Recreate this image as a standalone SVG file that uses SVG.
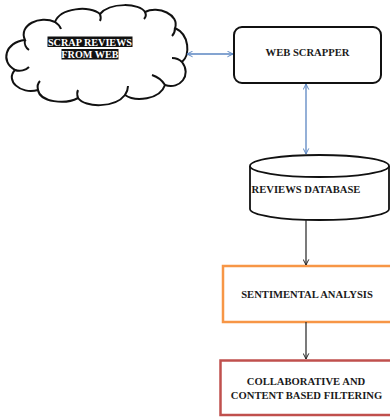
<svg xmlns="http://www.w3.org/2000/svg" width="390" height="417" viewBox="0 0 390 417">
<style>
text{font-family:"Liberation Serif","Times New Roman",serif;font-weight:bold;text-anchor:middle;fill:#1a1a1a}
.lbl{font-size:10.6px}
.wt{fill:#ffffff;font-size:10.2px}
.blue{stroke:#5b86c2;stroke-width:1.3;fill:none}
.blk{stroke:#222;stroke-width:1.2;fill:none}
</style>
<defs>
<marker id="ab" viewBox="0 0 10 10" refX="9" refY="5" markerWidth="7" markerHeight="7" orient="auto-start-reverse" markerUnits="userSpaceOnUse">
<path d="M1,1 L9,5 L1,9" fill="none" stroke="#5b86c2" stroke-width="1.4"/>
</marker>
<marker id="ak" viewBox="0 0 10 10" refX="9" refY="5" markerWidth="7" markerHeight="7" orient="auto" markerUnits="userSpaceOnUse">
<path d="M1,1 L9,5 L1,9" fill="none" stroke="#222" stroke-width="1.4"/>
</marker>
</defs>
<rect width="390" height="417" fill="#ffffff"/>
<g id="cloud">
<path d="M25,40 C18,25 40,15 55,22 C60,8 90,5 100,14 C110,2 140,3 145,12 C158,5 180,15 175,28 C190,35 190,55 182,62 C192,75 180,90 165,85 C160,100 135,102 125,95 C115,108 85,108 78,98 C65,105 40,102 38,90 C20,95 5,80 15,70 C0,62 5,42 25,40 Z" fill="#ffffff" stroke="#111" stroke-width="2"/>
<path d="M25,40 C24,44 26,48 29,50 M15,70 C20,72 26,70 29,67 M38,90 C37,86 38,83 40,81 M78,98 C77,95 77,92 78,90 M125,95 C127,92 128,89 128,86 M165,85 C162,80 158,77 152,75 M182,62 C180,60 176,58 172,58 M175,28 C175,31 174,34 172,36 M145,12 C146,14 146,17 144,19 M100,14 C101,17 101,19 100,21 M55,22 C58,24 60,26 61,29" fill="none" stroke="#111" stroke-width="2"/>
<rect x="47.5" y="36.5" width="85" height="10.5" fill="#111"/>
<rect x="61.5" y="49" width="57" height="10.5" fill="#111"/>
<text class="wt" x="90" y="45.5">SCRAP REVIEWS</text>
<text class="wt" x="90" y="57.8">FROM WEB</text>
</g>
<g id="webscrapper">
<rect x="234" y="27" width="147" height="56" rx="8" fill="#ffffff" stroke="#111" stroke-width="2"/>
<text class="lbl" x="307.5" y="56">WEB SCRAPPER</text>
</g>
<g id="database">
<path d="M250,166 L250,209 A69.5,11 0 0 0 389,209 L389,166" fill="#ffffff" stroke="#111" stroke-width="1.8"/>
<ellipse cx="319.5" cy="166" rx="69.5" ry="11" fill="#ffffff" stroke="#111" stroke-width="1.8"/>
<text class="lbl" x="306" y="192.5">REVIEWS DATABASE</text>
</g>
<g id="sentiment">
<rect x="223" y="266" width="190" height="56" fill="#ffffff" stroke="#f79646" stroke-width="2.5"/>
<text class="lbl" x="307" y="297.5">SENTIMENTAL ANALYSIS</text>
</g>
<g id="filtering">
<rect x="220.5" y="360.5" width="200" height="54.5" fill="#ffffff" stroke="#c0504d" stroke-width="2.5"/>
<text class="lbl" x="306" y="385">COLLABORATIVE AND</text>
<text class="lbl" x="306.5" y="399">CONTENT BASED FILTERING</text>
</g>
<g id="connectors">
<line class="blue" x1="187" y1="54" x2="233" y2="54" marker-start="url(#ab)" marker-end="url(#ab)"/>
<line class="blue" x1="306" y1="84" x2="306" y2="154" marker-start="url(#ab)" marker-end="url(#ab)"/>
<line class="blk" x1="306" y1="220" x2="306" y2="265" marker-end="url(#ak)"/>
<line class="blk" x1="306" y1="322" x2="306" y2="359" marker-end="url(#ak)"/>
</g>
</svg>
